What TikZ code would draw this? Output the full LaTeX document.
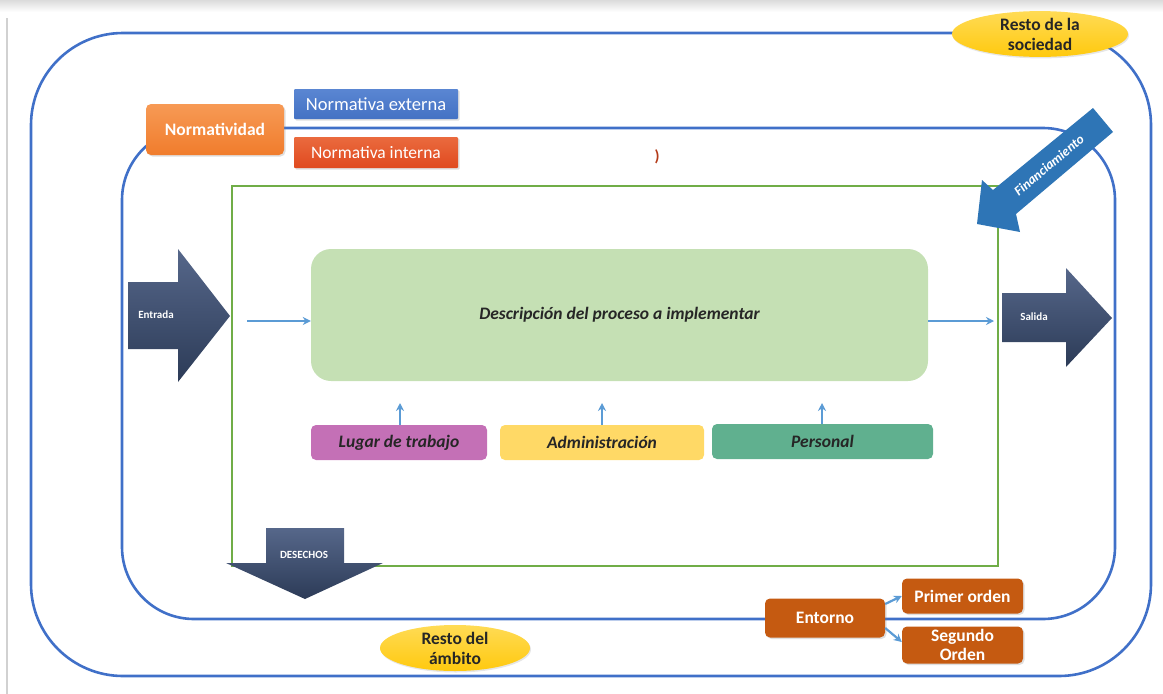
\documentclass[tikz,border=0pt]{standalone}
\usepackage{fontspec}
\setmainfont{Carlito}
\usetikzlibrary{shapes.geometric,calc,shadows,arrows.meta}

\definecolor{frameblue}{HTML}{4070C8}
\definecolor{procgreen}{HTML}{C5E0B4}
\definecolor{boxgreen}{HTML}{70AD47}
\definecolor{linkblue}{HTML}{5B9BD5}
\definecolor{slatetop}{HTML}{56678A}
\definecolor{slatebot}{HTML}{2C3B57}
\definecolor{normorange}{HTML}{F07C2C}
\definecolor{normorangetop}{HTML}{F79A55}
\definecolor{extblue}{HTML}{4472C4}
\definecolor{extbluetop}{HTML}{5A86D2}
\definecolor{intred}{HTML}{E04A1F}
\definecolor{intredtop}{HTML}{EA6A3E}
\definecolor{finblue}{HTML}{2E75B6}
\definecolor{goldfill}{HTML}{FFC90E}
\definecolor{goldtop}{HTML}{FFDB55}
\definecolor{lugarpink}{HTML}{C470B6}
\definecolor{adminyellow}{HTML}{FFD966}
\definecolor{persgreen}{HTML}{60B08F}
\definecolor{entbrown}{HTML}{C55A11}
\definecolor{darktext}{HTML}{262626}

\tikzset{
  frame/.style={draw=frameblue, line width=2.6pt},
  fin/.style={draw=boxgreen, line width=2.8pt},
  link/.style={draw=linkblue, line width=2pt, -{Stealth[length=8pt,width=8pt]}},
  bigarrow/.style={top color=slatetop, bottom color=slatebot},
  ovalnote/.style={ellipse, top color=goldtop, bottom color=goldfill,
    text=darktext, font=\fontsize{17.5}{20}\selectfont\bfseries, align=center,
    inner sep=0pt, drop shadow={opacity=0.2, shadow xshift=1pt, shadow yshift=-1.5pt}},
  tagbox/.style={rounded corners=5pt, text=white, inner sep=0pt,
    drop shadow={opacity=0.25, shadow xshift=1.5pt, shadow yshift=-1.5pt}},
  factor/.style={rounded corners=5pt, inner sep=0pt, text=darktext,
    font=\fontsize{17.5}{20}\selectfont\bfseries\itshape},
  envbox/.style={rounded corners=5pt, fill=entbrown, text=white, inner sep=0pt,
    align=center, font=\fontsize{17.5}{18.5}\selectfont\bfseries,
    drop shadow={opacity=0.25, shadow xshift=1.5pt, shadow yshift=-1.5pt}},
  arrowlabel/.style={text=white, font=\fontsize{11}{12}\selectfont\bfseries},
}

\begin{document}
\begin{tikzpicture}[x=1pt,y=-1pt]
  \useasboundingbox (0,0) rectangle (1163,694);

  % page edge
  \fill[top color=black!14, bottom color=white] (0,0) rectangle (1163,12);
  \draw[black!18, line width=1.2pt] (7,18) -- (7,694);

  % outer and inner scopes
  \draw[frame, rounded corners=92pt] (31,33) rectangle (1151,676);
  \draw[frame, rounded corners=72pt] (122,128) rectangle (1115,619);

  % system boundary
  \draw[fin] (232,186) rectangle (998,566);

  % process and its resources
  \node[fill=procgreen, rounded corners=20pt, minimum width=617pt, minimum height=132pt,
        font=\fontsize{17.5}{20}\selectfont\bfseries\itshape, text=darktext]
        (proc) at (619.5,315) {Descripción del proceso a implementar};

  \node[factor, fill=lugarpink, minimum width=176pt, minimum height=35pt]
        (lugar) at (399,442.5) {Lugar de trabajo};
  \node[factor, fill=adminyellow, minimum width=204pt, minimum height=35pt]
        (admin) at (602,442.5) {Administración};
  \node[factor, fill=persgreen, minimum width=221pt, minimum height=35pt]
        (pers) at (822.5,441.5) {Personal};

  \coordinate (lugarup) at (400,403);
  \coordinate (adminup) at (602,403);
  \coordinate (persup) at (822,403);
  \draw[link] (lugar.north -| lugarup) -- (lugarup);
  \draw[link] (admin.north -| adminup) -- (adminup);
  \draw[link] (pers.north -| persup) -- (persup);

  % input / output / waste arrows
  \path[bigarrow] (128,282) -- (178,282) -- (178,249) -- (230,316) -- (178,382)
        -- (178,349) -- (128,349) -- cycle;
  \node[arrowlabel] (entrada) at (156,315) {Entrada};

  \path[bigarrow] (1002,293) -- (1066,293) -- (1066,268) -- (1112,318) -- (1066,367)
        -- (1066,342) -- (1002,342) -- cycle;
  \node[arrowlabel] (salida) at (1034,317) {Salida};

  \path[bigarrow] (266,528) -- (344,528) -- (344,563) -- (383,563) -- (305,599)
        -- (226,563) -- (266,563) -- cycle;
  \node[arrowlabel] (desechos) at (304,555) {DESECHOS};

  \coordinate (inA) at (247,321);
  \coordinate (outB) at (994,321);
  \draw[link] (inA) -- (proc.west |- inA);
  \draw[link] (proc.east |- outB) -- (outB);

  % funding arrow
  \path[fill=finblue] (1093,108) -- (1113,132) -- (1016,214) -- (1020,232)
        -- (977,224) -- (982,180) -- (993,190) -- cycle;
  \node[text=white, rotate=40, font=\fontsize{13.5}{15}\selectfont\bfseries\itshape]
        (fin) at (1049,165) {Financiamiento};

  % regulation
  \node[tagbox, top color=normorangetop, bottom color=normorange,
        minimum width=138pt, minimum height=51pt, font=\fontsize{17.5}{20}\selectfont\bfseries]
        (norm) at (215,129.5) {Normatividad};
  \node[tagbox, rounded corners=1pt, top color=extbluetop, bottom color=extblue,
        minimum width=164pt, minimum height=30pt, font=\fontsize{18.5}{20}\selectfont]
        (ext) at (376,104) {Normativa externa};
  \node[tagbox, rounded corners=1pt, top color=intredtop, bottom color=intred,
        minimum width=164pt, minimum height=31pt, font=\fontsize{17.5}{20}\selectfont]
        (int) at (376,152.5) {Normativa interna};
  \node[text=intred!80!black, font=\fontsize{16}{18}\selectfont\bfseries]
        (paren) at (657,157) {)};

  % surrounding labels
  \node[ovalnote, minimum width=176pt, minimum height=40pt] (soc) at (1040,34)
        {Resto de la\\sociedad};
  \node[ovalnote, minimum width=150pt, minimum height=46pt] (amb) at (455,648)
        {Resto del\\ámbito};

  % environment
  \node[envbox, minimum width=120pt, minimum height=39pt] (ent) at (825,618) {Entorno};
  \node[envbox, minimum width=121pt, minimum height=35pt] (prim) at (962.5,596) {Primer orden};
  \node[envbox, minimum width=121pt, minimum height=37pt] (seg) at (962.5,645)
        {Segundo\\Orden};
  \draw[link, line width=2.2pt] (ent.east |- 0,604) -- (prim.west |- 0,596);
  \draw[link, line width=2.2pt] (ent.east |- 0,628) -- (seg.west |- 0,642);
\end{tikzpicture}
\end{document}
